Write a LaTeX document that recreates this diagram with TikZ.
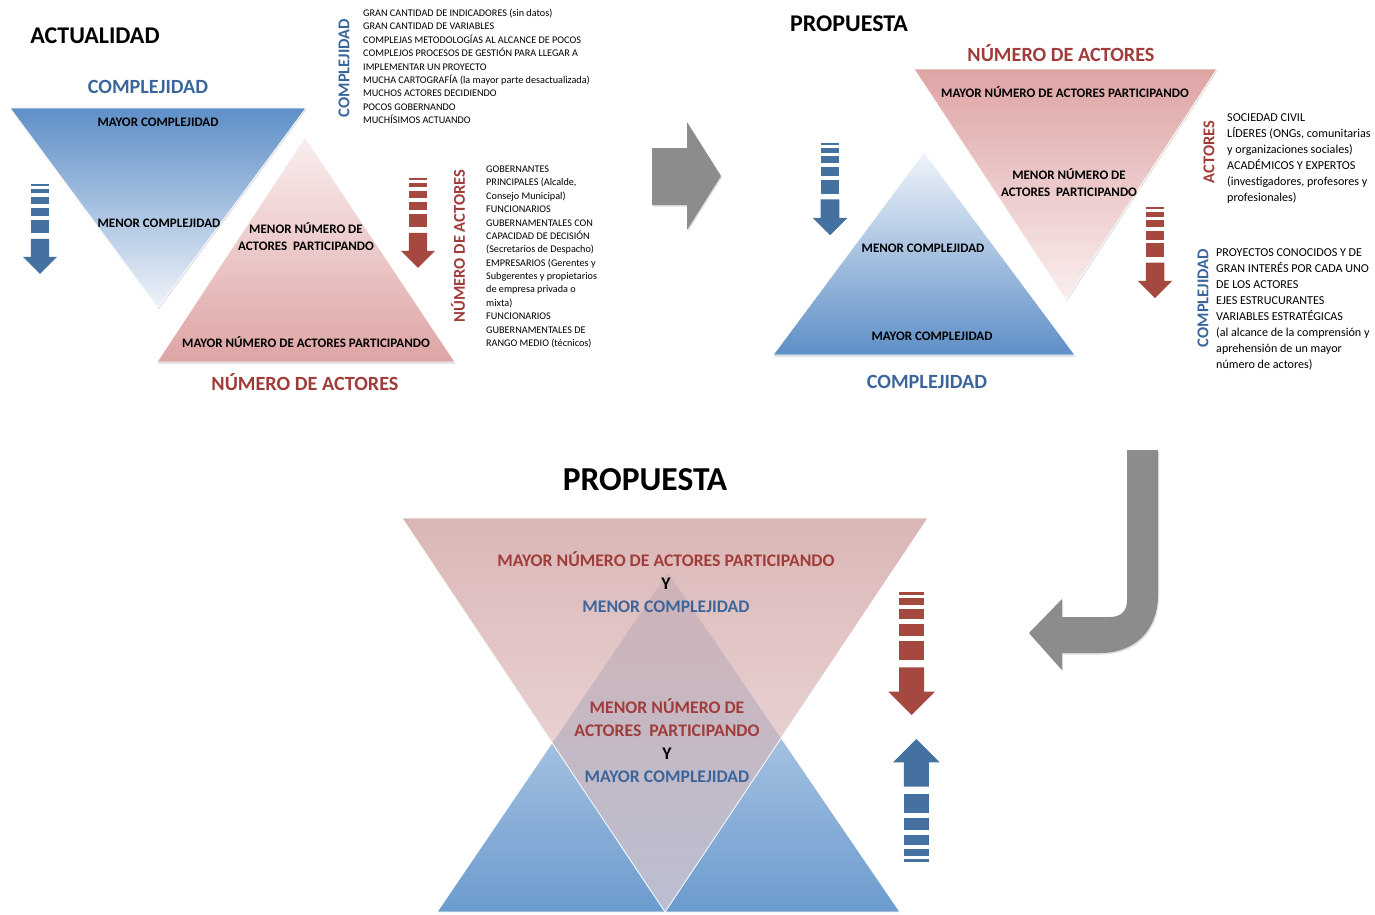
\documentclass[tikz,border=0pt]{standalone}
\usepackage{fontspec}
\setmainfont{Carlito}
\usetikzlibrary{shadows}

\definecolor{txtblue}{HTML}{3B669C}
\definecolor{txtred}{HTML}{A03C3A}
\definecolor{arrblue}{HTML}{44719F}
\definecolor{arrred}{HTML}{A5483F}
\definecolor{triblueD}{HTML}{5E8FC7}
\definecolor{triblueL}{HTML}{F0F4FA}
\definecolor{triredD}{HTML}{DEA4A4}
\definecolor{triredL}{HTML}{FAEEEE}
\definecolor{arrgray}{HTML}{8C8C8C}
\definecolor{baseblueL}{HTML}{DAE5F2}
\definecolor{baseblueD}{HTML}{6B9BCE}
\definecolor{baseredD}{HTML}{C48A8A}
\definecolor{baseredL}{HTML}{EBD5D5}

\tikzset{
  title/.style={font=\bfseries\fontsize{24}{28}\selectfont, inner sep=0},
  bigtitle/.style={font=\bfseries\fontsize{33.5}{38}\selectfont, inner sep=0},
  axisblue/.style={font=\bfseries\fontsize{20.2}{24}\selectfont, text=txtblue, inner sep=0},
  axisred/.style={font=\bfseries\fontsize{20.2}{24}\selectfont, text=txtred, inner sep=0},
  sideblue/.style={font=\bfseries\fontsize{16.5}{20}\selectfont, text=txtblue, rotate=90, inner sep=0},
  sidered/.style={font=\bfseries\fontsize{16.5}{20}\selectfont, text=txtred, rotate=90, inner sep=0},
  tlabel/.style={font=\bfseries\fontsize{13}{17}\selectfont, align=center, inner sep=0},
  biglabel/.style={font=\bfseries\fontsize{17.7}{23}\selectfont, align=center, inner sep=0},
  smalllist/.style={font=\fontsize{10.2}{13}\selectfont, anchor=base west, inner sep=0},
  itemlist/.style={font=\fontsize{12.1}{16}\selectfont, anchor=base west, inner sep=0},
  tri/.style={draw=white, line width=0.8pt,
    drop shadow={opacity=0.3, shadow xshift=0.6pt, shadow yshift=-1.5pt}},
  grayarrow/.style={fill=arrgray,
    drop shadow={opacity=0.25, shadow xshift=1pt, shadow yshift=-1.5pt}},
  % striped arrow pointing down, origin at the top centre
  sarrow/.pic={
    \foreach \a/\b in {0/3.3, 6.3/13, 17.3/27.3, 32.3/44, 49.3/67.7}
      \path[pic actions] (-12.5,\a) rectangle (12.5,\b);
    \path[pic actions] (-12.5,75.3) -- (12.5,75.3) -- (12.5,99.7) -- (23.3,99.7)
      -- (0,123) -- (-23.3,99.7) -- (-12.5,99.7) -- cycle;
  }
}

\begin{document}
\begin{tikzpicture}[x=1pt, y=-1pt]
\useasboundingbox (0,0) rectangle (1375,914);

% ---------- current situation ----------
\node[title] (actualidad) at (95,36) {ACTUALIDAD};
\node[axisblue] (complA) at (148,87) {COMPLEJIDAD};

\shade[tri, top color=triblueD, bottom color=triblueL]
  (10,108) -- (306,108) -- (158,308) -- cycle;
\shade[tri, top color=triredL, bottom color=triredD]
  (305,137) -- (455,362) -- (157,362) -- cycle;

\node[tlabel] (mayA) at (158,122) {MAYOR COMPLEJIDAD};
\node[tlabel] (menA) at (159,223) {MENOR COMPLEJIDAD};
\node[tlabel] (menNA) at (306,236.5) {MENOR NÚMERO DE\\ACTORES~ PARTICIPANDO};
\node[tlabel] (mayNA) at (306,342) {MAYOR NÚMERO DE ACTORES PARTICIPANDO};
\node[axisred] (numA) at (305,382) {NÚMERO DE ACTORES};

\pic[fill=arrblue, scale=0.73] at (40,184) {sarrow};
\pic[fill=arrred, scale=0.73] at (418,178) {sarrow};

\node[sideblue] (sideC1) at (344,68) {COMPLEJIDAD};
\foreach \t [count=\i] in {GRAN CANTIDAD DE INDICADORES (sin datos),
  GRAN CANTIDAD DE VARIABLES,
  COMPLEJAS METODOLOGÍAS AL ALCANCE DE POCOS,
  COMPLEJOS PROCESOS DE GESTIÓN PARA LLEGAR A,
  IMPLEMENTAR UN PROYECTO,
  MUCHA CARTOGRAFÍA (la mayor parte desactualizada),
  MUCHOS ACTORES DECIDIENDO,
  POCOS GOBERNANDO,
  MUCHÍSIMOS ACTUANDO}
  \node[smalllist] (lc\i) at (363,{16.5+13.375*(\i-1)}) {\t};

\node[sidered] (sideN1) at (458,246) {NÚMERO DE ACTORES};
\foreach \t [count=\i] in {GOBERNANTES,
  {PRINCIPALES (Alcalde,},
  Consejo Municipal),
  FUNCIONARIOS,
  GUBERNAMENTALES CON,
  CAPACIDAD DE DECISIÓN,
  {(Secretarios de Despacho)},
  EMPRESARIOS (Gerentes y,
  Subgerentes y propietarios,
  de empresa privada o,
  mixta),
  FUNCIONARIOS,
  GUBERNAMENTALES DE,
  RANGO MEDIO (técnicos)}
  \node[smalllist] (ln\i) at (486,{172.5+13.38*(\i-1)}) {\t};

% ---------- transition arrow ----------
\path[grayarrow] (652,148) -- (687,148) -- (687,122) -- (721,176)
  -- (687,230) -- (687,205) -- (652,205) -- cycle;

% ---------- proposal ----------
\node[title] (propB) at (849,24) {PROPUESTA};
\node[axisred] (numB) at (1061,53) {NÚMERO DE ACTORES};

\shade[tri, top color=triredD, bottom color=triredL]
  (914,69) -- (1217,69) -- (1066,300) -- cycle;
\shade[tri, top color=triblueL, bottom color=triblueD]
  (924,152) -- (1075,355) -- (773,355) -- cycle;

\node[tlabel] (mayNB) at (1065,92) {MAYOR NÚMERO DE ACTORES PARTICIPANDO};
\node[tlabel] (menNB) at (1069,182.5) {MENOR NÚMERO DE\\ACTORES~ PARTICIPANDO};
\node[tlabel] (menB) at (923,248) {MENOR COMPLEJIDAD};
\node[tlabel] (mayB) at (932,336) {MAYOR COMPLEJIDAD};
\node[axisblue] (complB) at (927,382) {COMPLEJIDAD};

\pic[fill=arrblue, scale=0.75] at (830,143) {sarrow};
\pic[fill=arrred, scale=0.74] at (1155,207) {sarrow};

\node[sidered] (sideN2) at (1209,152) {ACTORES};
\foreach \t [count=\i] in {SOCIEDAD CIVIL,
  {LÍDERES (ONGs, comunitarias},
  y organizaciones sociales),
  ACADÉMICOS Y EXPERTOS,
  {(investigadores, profesores y},
  profesionales)}
  \node[itemlist] (la\i) at (1227,{121+16*(\i-1)}) {\t};

\node[sideblue] (sideC2) at (1203,298) {COMPLEJIDAD};
\foreach \t [count=\i] in {PROYECTOS CONOCIDOS Y DE,
  GRAN INTERÉS POR CADA UNO,
  DE LOS ACTORES,
  EJES ESTRUCURANTES,
  VARIABLES ESTRATÉGICAS,
  {(al alcance de la comprensión y},
  aprehensión de un mayor,
  número de actores)}
  \node[itemlist] (lp\i) at (1216,{256.8+16*(\i-1)}) {\t};

% ---------- return arrow ----------
\path[grayarrow] (1127,450) -- (1158,450) -- (1158,595)
  .. controls (1158,630) and (1135,653) .. (1100,653)
  -- (1062,653) -- (1062,670) -- (1029,633) -- (1062,599) -- (1062,617)
  -- (1110,617) .. controls (1121,617) and (1127,611) .. (1127,600) -- cycle;

% ---------- combined proposal ----------
\node[bigtitle] (propC) at (645,480) {PROPUESTA};

\shade[draw=white, line width=0.8pt, top color=baseblueL, bottom color=baseblueD]
  (668,572) -- (900,912) -- (437,912) -- cycle;
\shade[draw=white, line width=0.8pt, fill opacity=0.62, top color=baseredD, bottom color=baseredL]
  (402,518) -- (928,518) -- (665,912) -- cycle;

\node[biglabel] (grpTop) at (666,582)
  {\textcolor{txtred}{MAYOR NÚMERO DE ACTORES PARTICIPANDO}\\Y\\\textcolor{txtblue}{MENOR COMPLEJIDAD}};
\node[biglabel] (grpMid) at (667,741)
  {\textcolor{txtred}{MENOR NÚMERO DE}\\\textcolor{txtred}{ACTORES~ PARTICIPANDO}\\Y\\\textcolor{txtblue}{MAYOR COMPLEJIDAD}};

\pic[fill=arrred] at (911.7,592) {sarrow};
\pic[fill=arrblue, yscale=-1] at (916.3,862) {sarrow};
\end{tikzpicture}
\end{document}
